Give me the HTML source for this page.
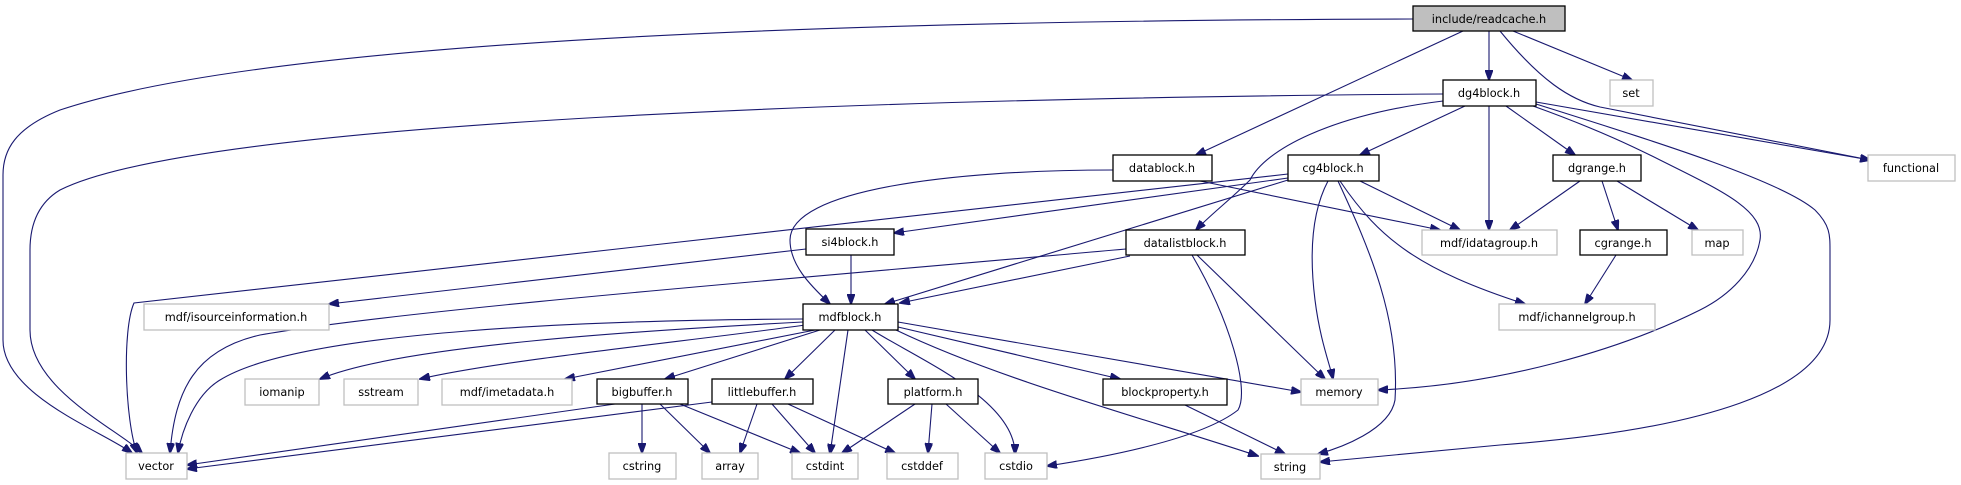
<!DOCTYPE html>
<html><head><meta charset="utf-8"><style>
html,body{margin:0;padding:0;background:#fff;}
svg{display:block;}
text{font-family:"DejaVu Sans","Liberation Sans",sans-serif;font-size:11.3px;fill:#000;text-anchor:middle;}
.b{fill:#fff;stroke:#000;stroke-width:1.3;}
.g{fill:#fff;stroke:#bfbfbf;stroke-width:1.3;}
.e{fill:none;stroke:#191970;stroke-width:1.1;}
</style></head><body>
<svg width="1961" height="485" viewBox="0 0 1961 485" xmlns="http://www.w3.org/2000/svg">
<defs><marker id="a" markerWidth="11" markerHeight="8" refX="10" refY="4" orient="auto" markerUnits="userSpaceOnUse"><path d="M0,0 L11,4 L0,8 z" fill="#191970" stroke="#191970"/></marker></defs>
<g class="e" marker-end="url(#a)">
<!-- readcache -->
<path d="M1413,19 C1000,20 300,30 60,110 C15,128 3,150 3,175 L3,340 C3,395 100,430 132,453"/>
<path d="M1463,31 L1196,155"/>
<path d="M1489,31 L1489,80"/>
<path d="M1513,31 L1632,80"/>
<path d="M1500,31 C1540,80 1570,100 1600,107 L1870,160"/>
<!-- dg4block -->
<path d="M1443,94 C900,98 200,120 60,190 C35,205 30,230 30,250 L30,330 C30,390 120,430 142,453"/>
<path d="M1443,101 C1330,115 1265,150 1250,180 C1230,200 1210,215 1196,230"/>
<path d="M1465,106 L1360,155"/>
<path d="M1489,106 L1489,230"/>
<path d="M1506,106 L1575,155"/>
<path d="M1536,102 L1870,160"/>
<path d="M1533,106 C1600,130 1640,150 1660,160 C1720,190 1765,210 1760,240 C1755,270 1730,295 1700,310 C1620,350 1500,385 1378,390"/>
<path d="M1536,104 C1650,140 1780,180 1815,210 C1830,225 1830,235 1830,250 L1830,320 C1830,390 1700,430 1500,445 L1320,462"/>
<!-- datablock -->
<path d="M1113,170 C950,170 790,190 790,240 C790,265 810,285 830,304"/>
<path d="M1200,181 L1440,230"/>
<!-- cg4block -->
<path d="M1288,178 L894,233"/>
<path d="M1288,174 L134,303 C122,330 125,420 137,453"/>
<path d="M1288,180 L885,304"/>
<path d="M1360,181 L1460,230"/>
<path d="M1328,181 C1310,215 1310,260 1315,300 C1320,340 1330,365 1333,379"/>
<path d="M1338,181 C1370,250 1400,320 1395,400 C1390,430 1340,448 1318,454"/>
<path d="M1340,181 C1380,240 1420,270 1525,304"/>
<!-- dgrange, cgrange -->
<path d="M1580,181 L1510,230"/>
<path d="M1602,181 L1618,230"/>
<path d="M1617,181 L1698,230"/>
<path d="M1616,255 L1585,304"/>
<!-- si4block -->
<path d="M851,255 L851,304"/>
<path d="M806,249 L329,304"/>
<!-- datalistblock -->
<path d="M1126,249 C800,278 400,310 260,335 C195,350 175,390 170,453"/>
<path d="M1130,256 L900,303"/>
<path d="M1197,255 L1325,379"/>
<path d="M1192,255 C1230,320 1250,390 1238,410 C1200,440 1100,458 1047,466"/>
<!-- mdfblock -->
<path d="M803,319 C600,320 300,330 220,380 C195,395 182,430 178,453"/>
<path d="M803,322 C650,330 400,345 320,379"/>
<path d="M805,325 C700,340 500,360 420,379"/>
<path d="M815,330 L565,379"/>
<path d="M820,330 L665,379"/>
<path d="M835,330 L785,379"/>
<path d="M848,330 L830,454"/>
<path d="M865,330 L915,379"/>
<path d="M872,330 C920,360 1015,400 1015,454"/>
<path d="M896,330 C1000,380 1150,420 1258,456"/>
<path d="M898,327 L1120,379"/>
<path d="M898,322 L1301,392"/>
<!-- bigbuffer / littlebuffer / platform / blockproperty -->
<path d="M615,404 L187,465"/>
<path d="M712,402 L187,469"/>
<path d="M642,404 L642,453"/>
<path d="M660,404 L710,453"/>
<path d="M680,404 L800,453"/>
<path d="M757,404 L740,453"/>
<path d="M772,404 L815,453"/>
<path d="M788,404 L895,453"/>
<path d="M915,404 L842,453"/>
<path d="M932,404 L928,453"/>
<path d="M946,404 L1000,453"/>
<path d="M1185,405 L1285,454"/>
</g>
<!-- nodes -->
<rect x="1413" y="6" width="152" height="25" fill="#bfbfbf" stroke="#000" stroke-width="1.3"/><text x="1489" y="23">include/readcache.h</text>
<rect class="b" x="1443" y="80" width="93" height="26"/><text x="1489" y="97">dg4block.h</text>
<rect class="g" x="1610" y="80" width="43" height="26"/><text x="1631" y="97">set</text>
<rect class="b" x="1113" y="155" width="99" height="26"/><text x="1162" y="172">datablock.h</text>
<rect class="b" x="1288" y="155" width="91" height="26"/><text x="1333" y="172">cg4block.h</text>
<rect class="b" x="1553" y="155" width="88" height="26"/><text x="1597" y="172">dgrange.h</text>
<rect class="g" x="1868" y="155" width="87" height="26"/><text x="1911" y="172">functional</text>
<rect class="b" x="806" y="229" width="88" height="26"/><text x="850" y="246">si4block.h</text>
<rect class="b" x="1126" y="230" width="119" height="25"/><text x="1185" y="247">datalistblock.h</text>
<rect class="g" x="1422" y="230" width="135" height="25"/><text x="1489" y="247">mdf/idatagroup.h</text>
<rect class="b" x="1580" y="230" width="87" height="25"/><text x="1623" y="247">cgrange.h</text>
<rect class="g" x="1692" y="230" width="51" height="25"/><text x="1717" y="247">map</text>
<rect class="g" x="144" y="304" width="185" height="26"/><text x="236" y="321">mdf/isourceinformation.h</text>
<rect class="b" x="803" y="304" width="95" height="26"/><text x="850" y="321">mdfblock.h</text>
<rect class="g" x="1499" y="304" width="156" height="26"/><text x="1577" y="321">mdf/ichannelgroup.h</text>
<rect class="g" x="245" y="379" width="74" height="26"/><text x="282" y="396">iomanip</text>
<rect class="g" x="344" y="379" width="74" height="26"/><text x="381" y="396">sstream</text>
<rect class="g" x="442" y="379" width="130" height="26"/><text x="507" y="396">mdf/imetadata.h</text>
<rect class="b" x="597" y="379" width="91" height="25"/><text x="642" y="396">bigbuffer.h</text>
<rect class="b" x="712" y="379" width="101" height="25"/><text x="762" y="396">littlebuffer.h</text>
<rect class="b" x="888" y="379" width="90" height="25"/><text x="933" y="396">platform.h</text>
<rect class="b" x="1103" y="379" width="124" height="26"/><text x="1165" y="396">blockproperty.h</text>
<rect class="g" x="1301" y="379" width="77" height="26"/><text x="1339" y="396">memory</text>
<rect class="g" x="126" y="453" width="61" height="26"/><text x="156" y="470">vector</text>
<rect class="g" x="609" y="453" width="67" height="26"/><text x="642" y="470">cstring</text>
<rect class="g" x="702" y="453" width="56" height="26"/><text x="730" y="470">array</text>
<rect class="g" x="792" y="453" width="66" height="26"/><text x="825" y="470">cstdint</text>
<rect class="g" x="887" y="453" width="71" height="26"/><text x="922" y="470">cstddef</text>
<rect class="g" x="985" y="453" width="62" height="26"/><text x="1016" y="470">cstdio</text>
<rect class="g" x="1261" y="454" width="59" height="25"/><text x="1290" y="471">string</text>
</svg>
</body></html>
